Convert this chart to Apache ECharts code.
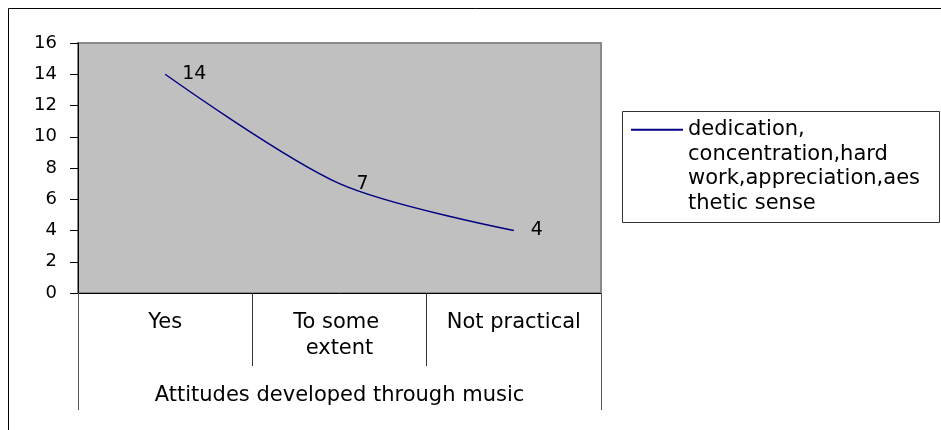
<!DOCTYPE html>
<html>
<head>
<meta charset="utf-8">
<script src="https://cdn.jsdelivr.net/npm/echarts@6/dist/echarts.min.js"></script>
<style>
  html, body { margin: 0; padding: 0; background: #fff; }
  #main { width: 941px; height: 430px; }
</style>
</head>
<body>
<div id="main"></div>
<script>
// data
const categories = ["Yes", "To some extent", "Not practical"];
const axisTitle = ["Attitudes developed through music"];
const seriesName = "dedication,\nconcentration,hard\nwork,appreciation,aes\nthetic sense";
const values = [14, 7, 4];

const font = "DejaVu Sans";

const myChart = echarts.init(document.getElementById("main"));
myChart.setOption({
  animation: false,
  backgroundColor: "#fff",
  textStyle: { fontFamily: font, color: "#000" },
  grid: {
    left: 78,
    right: 340,
    top: 43,
    bottom: 137,
    show: true,
    backgroundColor: "#c0c0c0",
    borderColor: "#8a8a8a",
    borderWidth: 2,
  },
  legend: {
    data: [seriesName],
    left: 631,
    top: 44,
    padding: 0,
    icon: "path://M0,0 L52,0 L52,2 L0,2 Z",
    itemWidth: 52,
    itemHeight: 2,
    itemStyle: { color: "#000080" },
    // blank lines in front so the first text line sits level with the line sample
    formatter: (name) => "\n\n\n" + name,
    textStyle: {
      fontFamily: font,
      fontSize: 21,
      color: "#000",
      lineHeight: 24.5,
    },
  },
  xAxis: [
    {
      type: "category",
      data: categories,
      boundaryGap: true,
      axisLine: { lineStyle: { color: "#000", width: 1 } },
      axisTick: { show: true, length: 73, lineStyle: { color: "#333" } },
      axisLabel: {
        margin: 17,
        fontFamily: font,
        fontSize: 21,
        color: "#000",
        lineHeight: 26,
        width: 150,
        overflow: "break",
        interval: 0,
      },
    },
    {
      type: "category",
      data: axisTitle,
      position: "bottom",
      boundaryGap: true,
      axisLine: { show: false },
      axisTick: { show: true, length: 117, lineStyle: { color: "#555" } },
      axisLabel: {
        margin: 90,
        fontFamily: font,
        fontSize: 21,
        color: "#000",
        lineHeight: 26,
      },
    },
  ],
  yAxis: {
    type: "value",
    min: 0,
    max: 16,
    interval: 2,
    splitLine: { show: false },
    axisLine: { show: true, lineStyle: { color: "#000", width: 1 } },
    axisTick: { show: true, length: 8, lineStyle: { color: "#000" } },
    axisLabel: {
      margin: 21,
      fontFamily: font,
      fontSize: 18,
      color: "#000",
    },
  },
  series: [
    {
      name: seriesName,
      type: "line",
      data: values,
      smooth: 0.3,
      symbol: "circle",
      symbolSize: 0,
      lineStyle: { color: "#000080", width: 1.5 },
      itemStyle: { color: "#000080" },
      label: {
        show: true,
        position: "right",
        distance: 17,
        fontFamily: font,
        fontSize: 19,
        color: "#000",
      },
    },
  ],
  graphic: [
    {
      // outer chart frame
      type: "rect",
      silent: true,
      z: -1,
      shape: { x: 8.5, y: 8.5, width: 1000, height: 1000 },
      style: { fill: "none", stroke: "#000", lineWidth: 1 },
    },
    {
      // legend frame
      type: "rect",
      silent: true,
      shape: { x: 622.5, y: 111.5, width: 317, height: 111 },
      style: { fill: "none", stroke: "#333", lineWidth: 1 },
    },
  ],
});
</script>
</body>
</html>
